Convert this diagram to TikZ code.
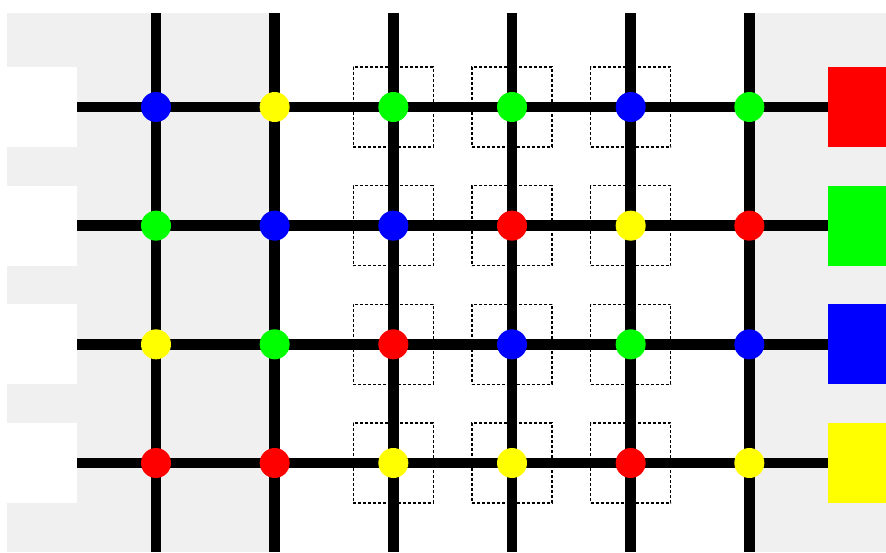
\documentclass[tikz,border=0pt]{standalone}
\usetikzlibrary{backgrounds}
\definecolor{panel}{RGB}{240,240,240}
\definecolor{pgreen}{RGB}{0,255,0}
\definecolor{pred}{RGB}{255,0,0}
\definecolor{pblue}{RGB}{0,0,255}
\definecolor{pyellow}{RGB}{255,255,0}
\pgfdeclarelayer{lines}
\pgfsetlayers{background,lines,main}
\tikzset{
  dot/.style={circle,fill=#1,minimum size=30pt,inner sep=0pt},
  wire/.style={line width=10.5pt,black},
  leftbox/.style={fill=white,minimum width=70pt,minimum height=80pt,inner sep=0pt,anchor=west},
  colorbox/.style={fill=#1,minimum width=58pt,minimum height=80pt,inner sep=0pt,anchor=east},
  cellbox/.style={draw,dash pattern=on 3pt off 2pt,line width=1.6pt,minimum size=80pt,inner sep=0pt},
}
\begin{document}
\begin{tikzpicture}[x=1pt,y=1pt]
\useasboundingbox (0,0) rectangle (886,552);
\begin{scope}[on background layer]
  \fill[panel] (7,0) rectangle (275,539);
  \fill[panel] (750,0) rectangle (886,539);
\end{scope}
% column end points
\foreach \c in {1,...,6} {
  \pgfmathsetmacro\xx{156+118.667*(\c-1)}
  \coordinate (top-\c) at (\xx,539);
  \coordinate (bot-\c) at (\xx,0);
}
% rows
\foreach \r/\cols/\rc in {
  1/{pblue,pyellow,pgreen,pgreen,pblue,pgreen}/pred,
  2/{pgreen,pblue,pblue,pred,pyellow,pred}/pgreen,
  3/{pyellow,pgreen,pred,pblue,pgreen,pblue}/pblue,
  4/{pred,pred,pyellow,pyellow,pred,pyellow}/pyellow} {
  \pgfmathsetmacro\yy{445-118.667*(\r-1)}
  \node[leftbox] (L\r) at (7,\yy) {};
  \node[colorbox=\rc] (R\r) at (886,\yy) {};
  \foreach \col [count=\c] in \cols {
    \pgfmathsetmacro\xx{156+118.667*(\c-1)}
    \node[dot=\col] (n-\r-\c) at (\xx,\yy) {};
  }
  \begin{pgfonlayer}{background}
    \foreach \c in {3,4,5} {
      \node[cellbox] (cell-\r-\c) at (n-\r-\c) {};
    }
  \end{pgfonlayer}
}
\begin{pgfonlayer}{lines}
  \foreach \c in {1,...,6} {
    \draw[wire] (top-\c) -- (bot-\c);
  }
  \foreach \r in {1,...,4} {
    \draw[wire] (L\r.east) -- (R\r.west);
  }
\end{pgfonlayer}
\end{tikzpicture}
\end{document}
